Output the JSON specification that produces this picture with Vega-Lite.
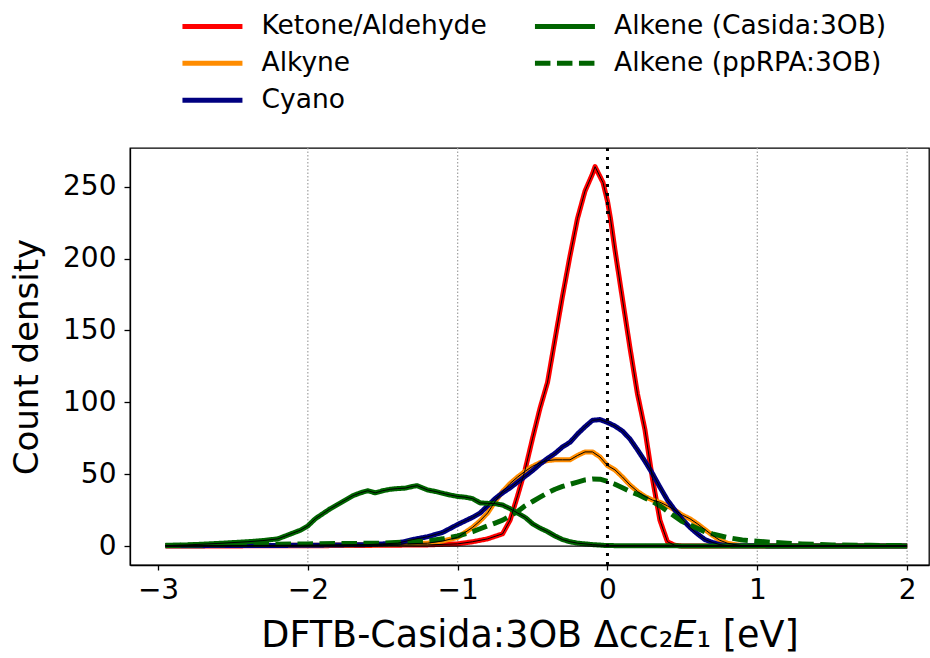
{
  "$schema": "https://vega.github.io/schema/vega-lite/v6.json",
  "width": 799,
  "height": 417,
  "autosize": {"type": "none"},
  "padding": {"left": 130, "top": 148, "right": 1, "bottom": 93},
  "background": "white",
  "config": {
    "font": "DejaVu Sans",
    "view": {"stroke": "black", "strokeWidth": 1.3},
    "axis": {"domainColor": "black", "domainWidth": 1.3, "tickColor": "black", "tickWidth": 1.3, "labelColor": "black", "titleColor": "black", "grid": false, "labelFont": "DejaVu Sans", "titleFont": "DejaVu Sans", "titleFontWeight": "normal"},
    "legend": {"labelFont": "DejaVu Sans"}
  },
  "datasets": {
    "curves": [
      {"s": "Ketone/Aldehyde", "x": -2.95, "y": 0}, {"s": "Ketone/Aldehyde", "x": -2.0, "y": 0.2}, {"s": "Ketone/Aldehyde", "x": -1.5, "y": 0.5}, {"s": "Ketone/Aldehyde", "x": -1.2, "y": 0.8}, {"s": "Ketone/Aldehyde", "x": -1.0, "y": 1.5}, {"s": "Ketone/Aldehyde", "x": -0.9, "y": 3}, {"s": "Ketone/Aldehyde", "x": -0.8, "y": 5}, {"s": "Ketone/Aldehyde", "x": -0.7, "y": 8.5}, {"s": "Ketone/Aldehyde", "x": -0.65, "y": 18}, {"s": "Ketone/Aldehyde", "x": -0.6, "y": 35}, {"s": "Ketone/Aldehyde", "x": -0.55, "y": 53}, {"s": "Ketone/Aldehyde", "x": -0.5, "y": 75}, {"s": "Ketone/Aldehyde", "x": -0.45, "y": 96}, {"s": "Ketone/Aldehyde", "x": -0.4, "y": 114}, {"s": "Ketone/Aldehyde", "x": -0.35, "y": 144}, {"s": "Ketone/Aldehyde", "x": -0.3, "y": 174}, {"s": "Ketone/Aldehyde", "x": -0.25, "y": 202}, {"s": "Ketone/Aldehyde", "x": -0.2, "y": 228}, {"s": "Ketone/Aldehyde", "x": -0.15, "y": 247}, {"s": "Ketone/Aldehyde", "x": -0.1, "y": 259}, {"s": "Ketone/Aldehyde", "x": -0.083, "y": 264}, {"s": "Ketone/Aldehyde", "x": -0.03, "y": 253}, {"s": "Ketone/Aldehyde", "x": 0.0, "y": 240}, {"s": "Ketone/Aldehyde", "x": 0.02, "y": 228}, {"s": "Ketone/Aldehyde", "x": 0.05, "y": 206}, {"s": "Ketone/Aldehyde", "x": 0.1, "y": 172}, {"s": "Ketone/Aldehyde", "x": 0.15, "y": 138}, {"s": "Ketone/Aldehyde", "x": 0.2, "y": 106}, {"s": "Ketone/Aldehyde", "x": 0.25, "y": 81}, {"s": "Ketone/Aldehyde", "x": 0.3, "y": 47}, {"s": "Ketone/Aldehyde", "x": 0.35, "y": 18}, {"s": "Ketone/Aldehyde", "x": 0.4, "y": 3}, {"s": "Ketone/Aldehyde", "x": 0.45, "y": 0.5}, {"s": "Ketone/Aldehyde", "x": 0.5, "y": 0}, {"s": "Ketone/Aldehyde", "x": 1.0, "y": 0}, {"s": "Ketone/Aldehyde", "x": 2.0, "y": 0},

      {"s": "Alkyne", "x": -2.95, "y": 0.2}, {"s": "Alkyne", "x": -2.0, "y": 0.5}, {"s": "Alkyne", "x": -1.5, "y": 1}, {"s": "Alkyne", "x": -1.2, "y": 2}, {"s": "Alkyne", "x": -1.1, "y": 3.5}, {"s": "Alkyne", "x": -1.0, "y": 6}, {"s": "Alkyne", "x": -0.95, "y": 9.5}, {"s": "Alkyne", "x": -0.9, "y": 13}, {"s": "Alkyne", "x": -0.85, "y": 17.6}, {"s": "Alkyne", "x": -0.8, "y": 23}, {"s": "Alkyne", "x": -0.75, "y": 31}, {"s": "Alkyne", "x": -0.7, "y": 38}, {"s": "Alkyne", "x": -0.65, "y": 43.5}, {"s": "Alkyne", "x": -0.6, "y": 48}, {"s": "Alkyne", "x": -0.55, "y": 52}, {"s": "Alkyne", "x": -0.5, "y": 55.5}, {"s": "Alkyne", "x": -0.45, "y": 58}, {"s": "Alkyne", "x": -0.4, "y": 59.5}, {"s": "Alkyne", "x": -0.35, "y": 60}, {"s": "Alkyne", "x": -0.3, "y": 60}, {"s": "Alkyne", "x": -0.25, "y": 60}, {"s": "Alkyne", "x": -0.2, "y": 63}, {"s": "Alkyne", "x": -0.15, "y": 65.5}, {"s": "Alkyne", "x": -0.1, "y": 65.5}, {"s": "Alkyne", "x": -0.05, "y": 62}, {"s": "Alkyne", "x": 0.0, "y": 56}, {"s": "Alkyne", "x": 0.05, "y": 53}, {"s": "Alkyne", "x": 0.1, "y": 48}, {"s": "Alkyne", "x": 0.15, "y": 42.5}, {"s": "Alkyne", "x": 0.2, "y": 38}, {"s": "Alkyne", "x": 0.25, "y": 34.5}, {"s": "Alkyne", "x": 0.3, "y": 32}, {"s": "Alkyne", "x": 0.35, "y": 30.5}, {"s": "Alkyne", "x": 0.4, "y": 28}, {"s": "Alkyne", "x": 0.45, "y": 25}, {"s": "Alkyne", "x": 0.5, "y": 21.5}, {"s": "Alkyne", "x": 0.55, "y": 19}, {"s": "Alkyne", "x": 0.6, "y": 15.5}, {"s": "Alkyne", "x": 0.65, "y": 11.5}, {"s": "Alkyne", "x": 0.7, "y": 7.5}, {"s": "Alkyne", "x": 0.75, "y": 4}, {"s": "Alkyne", "x": 0.8, "y": 2}, {"s": "Alkyne", "x": 0.85, "y": 1}, {"s": "Alkyne", "x": 0.9, "y": 0.3}, {"s": "Alkyne", "x": 1.2, "y": 0}, {"s": "Alkyne", "x": 2.0, "y": 0},

      {"s": "Cyano", "x": -2.95, "y": 0.2}, {"s": "Cyano", "x": -2.0, "y": 0.5}, {"s": "Cyano", "x": -1.6, "y": 1}, {"s": "Cyano", "x": -1.4, "y": 2}, {"s": "Cyano", "x": -1.3, "y": 4.5}, {"s": "Cyano", "x": -1.2, "y": 6.5}, {"s": "Cyano", "x": -1.1, "y": 9.5}, {"s": "Cyano", "x": -1.0, "y": 15}, {"s": "Cyano", "x": -0.95, "y": 17.5}, {"s": "Cyano", "x": -0.9, "y": 20}, {"s": "Cyano", "x": -0.85, "y": 23}, {"s": "Cyano", "x": -0.8, "y": 28}, {"s": "Cyano", "x": -0.75, "y": 33}, {"s": "Cyano", "x": -0.7, "y": 37}, {"s": "Cyano", "x": -0.65, "y": 40.5}, {"s": "Cyano", "x": -0.6, "y": 44.5}, {"s": "Cyano", "x": -0.55, "y": 48.5}, {"s": "Cyano", "x": -0.5, "y": 52.5}, {"s": "Cyano", "x": -0.45, "y": 57}, {"s": "Cyano", "x": -0.4, "y": 61}, {"s": "Cyano", "x": -0.35, "y": 64.5}, {"s": "Cyano", "x": -0.3, "y": 69}, {"s": "Cyano", "x": -0.25, "y": 72.2}, {"s": "Cyano", "x": -0.2, "y": 78}, {"s": "Cyano", "x": -0.15, "y": 83}, {"s": "Cyano", "x": -0.1, "y": 87.5}, {"s": "Cyano", "x": -0.05, "y": 88}, {"s": "Cyano", "x": 0.0, "y": 86}, {"s": "Cyano", "x": 0.05, "y": 83.5}, {"s": "Cyano", "x": 0.1, "y": 80}, {"s": "Cyano", "x": 0.15, "y": 74.5}, {"s": "Cyano", "x": 0.2, "y": 67}, {"s": "Cyano", "x": 0.25, "y": 59}, {"s": "Cyano", "x": 0.3, "y": 50.5}, {"s": "Cyano", "x": 0.35, "y": 41}, {"s": "Cyano", "x": 0.4, "y": 32}, {"s": "Cyano", "x": 0.45, "y": 25}, {"s": "Cyano", "x": 0.5, "y": 18.5}, {"s": "Cyano", "x": 0.55, "y": 13}, {"s": "Cyano", "x": 0.6, "y": 8.5}, {"s": "Cyano", "x": 0.65, "y": 4.5}, {"s": "Cyano", "x": 0.7, "y": 2.5}, {"s": "Cyano", "x": 0.75, "y": 1}, {"s": "Cyano", "x": 0.8, "y": 0.3}, {"s": "Cyano", "x": 1.2, "y": 0}, {"s": "Cyano", "x": 2.0, "y": 0},

      {"s": "Alkene (Casida:3OB)", "x": -2.95, "y": 0.3}, {"s": "Alkene (Casida:3OB)", "x": -2.8, "y": 0.8}, {"s": "Alkene (Casida:3OB)", "x": -2.6, "y": 1.8}, {"s": "Alkene (Casida:3OB)", "x": -2.4, "y": 3}, {"s": "Alkene (Casida:3OB)", "x": -2.3, "y": 3.8}, {"s": "Alkene (Casida:3OB)", "x": -2.2, "y": 5}, {"s": "Alkene (Casida:3OB)", "x": -2.15, "y": 7}, {"s": "Alkene (Casida:3OB)", "x": -2.1, "y": 9}, {"s": "Alkene (Casida:3OB)", "x": -2.05, "y": 11}, {"s": "Alkene (Casida:3OB)", "x": -2.0, "y": 14}, {"s": "Alkene (Casida:3OB)", "x": -1.95, "y": 19}, {"s": "Alkene (Casida:3OB)", "x": -1.9, "y": 22.5}, {"s": "Alkene (Casida:3OB)", "x": -1.85, "y": 26}, {"s": "Alkene (Casida:3OB)", "x": -1.8, "y": 29}, {"s": "Alkene (Casida:3OB)", "x": -1.75, "y": 32}, {"s": "Alkene (Casida:3OB)", "x": -1.7, "y": 35}, {"s": "Alkene (Casida:3OB)", "x": -1.65, "y": 37}, {"s": "Alkene (Casida:3OB)", "x": -1.6, "y": 38.5}, {"s": "Alkene (Casida:3OB)", "x": -1.55, "y": 37}, {"s": "Alkene (Casida:3OB)", "x": -1.5, "y": 38.5}, {"s": "Alkene (Casida:3OB)", "x": -1.45, "y": 39.5}, {"s": "Alkene (Casida:3OB)", "x": -1.4, "y": 40}, {"s": "Alkene (Casida:3OB)", "x": -1.35, "y": 40.3}, {"s": "Alkene (Casida:3OB)", "x": -1.3, "y": 41.5}, {"s": "Alkene (Casida:3OB)", "x": -1.27, "y": 42}, {"s": "Alkene (Casida:3OB)", "x": -1.2, "y": 39}, {"s": "Alkene (Casida:3OB)", "x": -1.15, "y": 38}, {"s": "Alkene (Casida:3OB)", "x": -1.1, "y": 36.7}, {"s": "Alkene (Casida:3OB)", "x": -1.05, "y": 35.5}, {"s": "Alkene (Casida:3OB)", "x": -1.0, "y": 34.5}, {"s": "Alkene (Casida:3OB)", "x": -0.95, "y": 34}, {"s": "Alkene (Casida:3OB)", "x": -0.9, "y": 33}, {"s": "Alkene (Casida:3OB)", "x": -0.85, "y": 30}, {"s": "Alkene (Casida:3OB)", "x": -0.8, "y": 29.7}, {"s": "Alkene (Casida:3OB)", "x": -0.75, "y": 29.5}, {"s": "Alkene (Casida:3OB)", "x": -0.7, "y": 28.5}, {"s": "Alkene (Casida:3OB)", "x": -0.65, "y": 26}, {"s": "Alkene (Casida:3OB)", "x": -0.6, "y": 23}, {"s": "Alkene (Casida:3OB)", "x": -0.55, "y": 20}, {"s": "Alkene (Casida:3OB)", "x": -0.5, "y": 15.5}, {"s": "Alkene (Casida:3OB)", "x": -0.45, "y": 12.5}, {"s": "Alkene (Casida:3OB)", "x": -0.4, "y": 10}, {"s": "Alkene (Casida:3OB)", "x": -0.35, "y": 7}, {"s": "Alkene (Casida:3OB)", "x": -0.3, "y": 4.5}, {"s": "Alkene (Casida:3OB)", "x": -0.25, "y": 3}, {"s": "Alkene (Casida:3OB)", "x": -0.2, "y": 2}, {"s": "Alkene (Casida:3OB)", "x": -0.1, "y": 1}, {"s": "Alkene (Casida:3OB)", "x": 0.0, "y": 0.3}, {"s": "Alkene (Casida:3OB)", "x": 0.5, "y": 0.1}, {"s": "Alkene (Casida:3OB)", "x": 2.0, "y": 0},

      {"s": "Alkene (ppRPA:3OB)", "x": -2.95, "y": 0.5}, {"s": "Alkene (ppRPA:3OB)", "x": -2.5, "y": 1}, {"s": "Alkene (ppRPA:3OB)", "x": -2.0, "y": 1.5}, {"s": "Alkene (ppRPA:3OB)", "x": -1.5, "y": 2}, {"s": "Alkene (ppRPA:3OB)", "x": -1.3, "y": 3}, {"s": "Alkene (ppRPA:3OB)", "x": -1.2, "y": 3.5}, {"s": "Alkene (ppRPA:3OB)", "x": -1.1, "y": 5}, {"s": "Alkene (ppRPA:3OB)", "x": -1.0, "y": 7}, {"s": "Alkene (ppRPA:3OB)", "x": -0.95, "y": 8.5}, {"s": "Alkene (ppRPA:3OB)", "x": -0.9, "y": 10}, {"s": "Alkene (ppRPA:3OB)", "x": -0.85, "y": 12}, {"s": "Alkene (ppRPA:3OB)", "x": -0.8, "y": 14}, {"s": "Alkene (ppRPA:3OB)", "x": -0.75, "y": 16}, {"s": "Alkene (ppRPA:3OB)", "x": -0.7, "y": 18}, {"s": "Alkene (ppRPA:3OB)", "x": -0.65, "y": 21}, {"s": "Alkene (ppRPA:3OB)", "x": -0.6, "y": 24}, {"s": "Alkene (ppRPA:3OB)", "x": -0.55, "y": 28}, {"s": "Alkene (ppRPA:3OB)", "x": -0.5, "y": 31}, {"s": "Alkene (ppRPA:3OB)", "x": -0.45, "y": 34}, {"s": "Alkene (ppRPA:3OB)", "x": -0.4, "y": 37}, {"s": "Alkene (ppRPA:3OB)", "x": -0.35, "y": 39.5}, {"s": "Alkene (ppRPA:3OB)", "x": -0.3, "y": 41.5}, {"s": "Alkene (ppRPA:3OB)", "x": -0.25, "y": 43}, {"s": "Alkene (ppRPA:3OB)", "x": -0.2, "y": 44.5}, {"s": "Alkene (ppRPA:3OB)", "x": -0.15, "y": 46}, {"s": "Alkene (ppRPA:3OB)", "x": -0.1, "y": 46.7}, {"s": "Alkene (ppRPA:3OB)", "x": -0.05, "y": 46.5}, {"s": "Alkene (ppRPA:3OB)", "x": 0.0, "y": 45}, {"s": "Alkene (ppRPA:3OB)", "x": 0.05, "y": 43}, {"s": "Alkene (ppRPA:3OB)", "x": 0.1, "y": 40.5}, {"s": "Alkene (ppRPA:3OB)", "x": 0.15, "y": 38}, {"s": "Alkene (ppRPA:3OB)", "x": 0.2, "y": 36}, {"s": "Alkene (ppRPA:3OB)", "x": 0.25, "y": 33.5}, {"s": "Alkene (ppRPA:3OB)", "x": 0.3, "y": 31}, {"s": "Alkene (ppRPA:3OB)", "x": 0.35, "y": 28}, {"s": "Alkene (ppRPA:3OB)", "x": 0.4, "y": 24.2}, {"s": "Alkene (ppRPA:3OB)", "x": 0.45, "y": 20.6}, {"s": "Alkene (ppRPA:3OB)", "x": 0.5, "y": 17}, {"s": "Alkene (ppRPA:3OB)", "x": 0.55, "y": 14.6}, {"s": "Alkene (ppRPA:3OB)", "x": 0.6, "y": 12.3}, {"s": "Alkene (ppRPA:3OB)", "x": 0.65, "y": 10}, {"s": "Alkene (ppRPA:3OB)", "x": 0.7, "y": 8.5}, {"s": "Alkene (ppRPA:3OB)", "x": 0.75, "y": 7.2}, {"s": "Alkene (ppRPA:3OB)", "x": 0.8, "y": 5.9}, {"s": "Alkene (ppRPA:3OB)", "x": 0.9, "y": 4.2}, {"s": "Alkene (ppRPA:3OB)", "x": 1.0, "y": 3.3}, {"s": "Alkene (ppRPA:3OB)", "x": 1.1, "y": 2.6}, {"s": "Alkene (ppRPA:3OB)", "x": 1.2, "y": 2}, {"s": "Alkene (ppRPA:3OB)", "x": 1.3, "y": 1.5}, {"s": "Alkene (ppRPA:3OB)", "x": 1.5, "y": 0.8}, {"s": "Alkene (ppRPA:3OB)", "x": 1.75, "y": 0.5}, {"s": "Alkene (ppRPA:3OB)", "x": 2.0, "y": 0.3}
    ]
  },
  "layer": [
    {
      "data": {"values": [{"g": -2}, {"g": -1}, {"g": 1}, {"g": 2}]},
      "mark": {"type": "rule", "color": "#a0a0a0", "strokeWidth": 1.2, "strokeDash": [1.5, 2]},
      "encoding": {"x": {"field": "g", "type": "quantitative", "scale": {"domain": [-3.187, 2.146], "nice": false, "zero": false}}}
    },
    {
      "data": {"name": "curves"},
      "mark": {"type": "line", "strokeWidth": 5, "strokeJoin": "round"},
      "encoding": {
        "x": {"field": "x", "type": "quantitative", "scale": {"domain": [-3.187, 2.146], "nice": false, "zero": false},
              "axis": {"values": [-3, -2, -1, 0, 1, 2], "format": "d", "labelFontSize": 28, "tickSize": 5, "labelPadding": 6, "title": "DFTB-Casida:3OB Δᴄᴄ₂𝘌₁ [eV]", "titleFontSize": 36.5, "titlePadding": 13}},
        "y": {"field": "y", "type": "quantitative", "scale": {"domain": [-13.2, 277.0], "nice": false, "zero": false},
              "axis": {"values": [0, 50, 100, 150, 200, 250], "labelFontSize": 28, "tickSize": 6, "labelPadding": 8, "title": "Count density", "titleFontSize": 34, "titlePadding": 18}},
        "color": {"field": "s", "type": "nominal",
                  "scale": {"domain": ["Ketone/Aldehyde", "Alkyne", "Cyano", "Alkene (Casida:3OB)", "Alkene (ppRPA:3OB)"], "range": ["#ff0000", "#ff8c00", "#000080", "#006400", "#006400"]},
                  "legend": {"title": null, "orient": "none", "legendX": 69.2, "legendY": -135, "columns": 2, "symbolType": "M-3,0L3,0", "symbolSize": 400, "symbolStrokeWidth": 5, "labelFontSize": 26.5, "labelOffset": 35.8, "rowPadding": 10, "columnPadding": 37.5, "padding": 0, "labelLimit": 400}},
        "strokeDash": {"field": "s", "type": "nominal",
                       "scale": {"domain": ["Ketone/Aldehyde", "Alkyne", "Cyano", "Alkene (Casida:3OB)", "Alkene (ppRPA:3OB)"], "range": [[1, 0], [1, 0], [1, 0], [1, 0], [15.5, 6.5]]},
                       "legend": {"title": null, "orient": "none", "legendX": 69.2, "legendY": -135, "columns": 2, "symbolType": "M-3,0L3,0", "symbolSize": 400, "symbolStrokeWidth": 5, "labelFontSize": 26.5, "labelOffset": 35.8, "rowPadding": 10, "columnPadding": 37.5, "padding": 0, "labelLimit": 400}}
      }
    },
    {
      "data": {"name": "curves"},
      "transform": [{"filter": "datum.s !== 'Alkene (ppRPA:3OB)'"}],
      "mark": {"type": "line", "strokeWidth": 1, "color": "black"},
      "encoding": {
        "x": {"field": "x", "type": "quantitative"},
        "y": {"field": "y", "type": "quantitative"},
        "detail": {"field": "s", "type": "nominal"}
      }
    },
    {
      "data": {"values": [{"a": -2.95, "b": 2.0, "v": 0}]},
      "mark": {"type": "rule", "color": "black", "strokeWidth": 1.3},
      "encoding": {"x": {"field": "a", "type": "quantitative"}, "x2": {"field": "b"}, "y": {"field": "v", "type": "quantitative"}}
    },
    {
      "data": {"values": [{"z": 0}]},
      "mark": {"type": "rule", "color": "black", "strokeWidth": 3, "strokeDash": [3, 6]},
      "encoding": {"x": {"field": "z", "type": "quantitative"}}
    }
  ]
}
